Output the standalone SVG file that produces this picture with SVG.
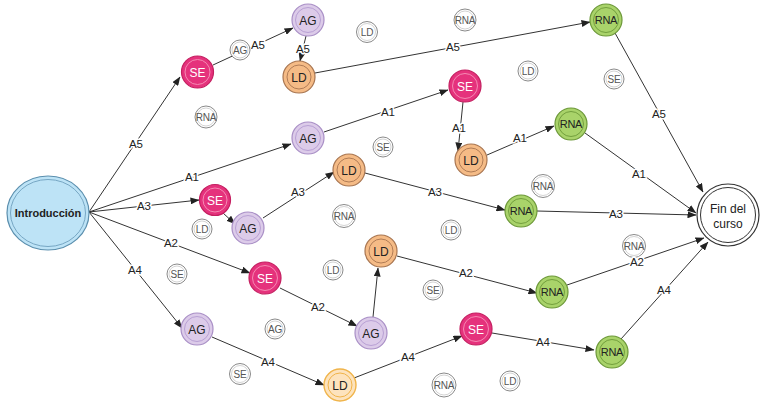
<svg xmlns="http://www.w3.org/2000/svg" width="762" height="407" viewBox="0 0 762 407">
<defs>
<marker id="arr" markerWidth="9" markerHeight="7" refX="8.5" refY="3.5" orient="auto" markerUnits="userSpaceOnUse">
<path d="M0,0 L9,3.5 L0,7 z" fill="#222"/>
</marker>
<style>
.e{stroke:#333;stroke-width:1;fill:none;marker-end:url(#arr)}
.el{font-family:"Liberation Sans",Arial,sans-serif;font-size:11.5px;fill:#222;text-anchor:middle;stroke:#fff;stroke-width:3px;paint-order:stroke;stroke-linejoin:round}
.t{font-family:"Liberation Sans",Arial,sans-serif;font-size:12px;fill:#222;text-anchor:middle}
.tr{font-family:"Liberation Sans",Arial,sans-serif;font-size:11px;fill:#222;text-anchor:middle;letter-spacing:-0.3px}
.tw{font-family:"Liberation Sans",Arial,sans-serif;font-size:12px;fill:#fff;text-anchor:middle}
.g{font-family:"Liberation Sans",Arial,sans-serif;font-size:10px;fill:#555;text-anchor:middle;letter-spacing:-0.2px}
.se{fill:#e5327c;stroke:#c41f60;stroke-width:1.2}
.sei{fill:none;stroke:#f58ab3;stroke-width:1}
.ag{fill:#dccbe9;stroke:#a98fc6;stroke-width:1.2}
.agi{fill:none;stroke:#b8a0d4;stroke-width:1}
.ld{fill:#f5bb86;stroke:#a87550;stroke-width:1.2}
.ldi{fill:none;stroke:#a87550;stroke-width:0.9}
.ld4{fill:#fde3bd;stroke:#f0b44a;stroke-width:1.4}
.ld4i{fill:none;stroke:#f0b44a;stroke-width:1}
.rna{fill:#a9d36a;stroke:#6c9838;stroke-width:1.2}
.rnai{fill:none;stroke:#6c9838;stroke-width:0.9}
.gh{fill:#fff;stroke:#8a8a8a;stroke-width:1}
.ghi{fill:none;stroke:#c8c8c8;stroke-width:0.8}
</style>
</defs>
<rect width="762" height="407" fill="#fff"/>

<g id="ghosts">
<g id="g2"><circle cx="206" cy="117" r="11" class="gh"/><circle cx="206" cy="117" r="9" class="ghi"/><text x="206" y="120.5" class="g">RNA</text></g>
<g id="g3"><circle cx="367" cy="32" r="10.5" class="gh"/><circle cx="367" cy="32" r="8.5" class="ghi"/><text x="367" y="35.5" class="g">LD</text></g>
<g id="g4"><circle cx="465" cy="20" r="11" class="gh"/><circle cx="465" cy="20" r="9" class="ghi"/><text x="465" y="23.5" class="g">RNA</text></g>
<g id="g5"><circle cx="528" cy="71" r="10" class="gh"/><circle cx="528" cy="71" r="8" class="ghi"/><text x="528" y="74.5" class="g">LD</text></g>
<g id="g6"><circle cx="614" cy="79" r="10" class="gh"/><circle cx="614" cy="79" r="8" class="ghi"/><text x="614" y="82.5" class="g">SE</text></g>
<g id="g7"><circle cx="383" cy="147" r="10" class="gh"/><circle cx="383" cy="147" r="8" class="ghi"/><text x="383" y="150.5" class="g">SE</text></g>
<g id="g8"><circle cx="344" cy="216" r="11.5" class="gh"/><circle cx="344" cy="216" r="9.5" class="ghi"/><text x="344" y="219.5" class="g">RNA</text></g>
<g id="g9"><circle cx="451" cy="230" r="10" class="gh"/><circle cx="451" cy="230" r="8" class="ghi"/><text x="451" y="233.5" class="g">LD</text></g>
<g id="g10"><circle cx="202" cy="229" r="10" class="gh"/><circle cx="202" cy="229" r="8" class="ghi"/><text x="202" y="232.5" class="g">LD</text></g>
<g id="g11"><circle cx="543" cy="186" r="11.5" class="gh"/><circle cx="543" cy="186" r="9.5" class="ghi"/><text x="543" y="189.5" class="g">RNA</text></g>
<g id="g12"><circle cx="634" cy="246" r="11.5" class="gh"/><circle cx="634" cy="246" r="9.5" class="ghi"/><text x="634" y="249.5" class="g">RNA</text></g>
<g id="g13"><circle cx="177" cy="274" r="10" class="gh"/><circle cx="177" cy="274" r="8" class="ghi"/><text x="177" y="277.5" class="g">SE</text></g>
<g id="g14"><circle cx="333" cy="270" r="10" class="gh"/><circle cx="333" cy="270" r="8" class="ghi"/><text x="333" y="273.5" class="g">LD</text></g>
<g id="g15"><circle cx="433" cy="290" r="10" class="gh"/><circle cx="433" cy="290" r="8" class="ghi"/><text x="433" y="293.5" class="g">SE</text></g>
<g id="g16"><circle cx="275" cy="329" r="10" class="gh"/><circle cx="275" cy="329" r="8" class="ghi"/><text x="275" y="332.5" class="g">AG</text></g>
<g id="g17"><circle cx="240" cy="374" r="10.5" class="gh"/><circle cx="240" cy="374" r="8.5" class="ghi"/><text x="240" y="377.5" class="g">SE</text></g>
<g id="g18"><circle cx="444" cy="385" r="12" class="gh"/><circle cx="444" cy="385" r="10" class="ghi"/><text x="444" y="388.5" class="g">RNA</text></g>
<g id="g19"><circle cx="510" cy="381" r="10" class="gh"/><circle cx="510" cy="381" r="8" class="ghi"/><text x="510" y="384.5" class="g">LD</text></g>
</g>

<g id="connectors">
<line x1="89" y1="212" x2="180" y2="77" class="e"/>
<line x1="213" y1="65" x2="293" y2="28" class="e"/>
<line x1="306" y1="36" x2="300" y2="61" class="e"/>
<line x1="315" y1="73" x2="590" y2="22" class="e"/>
<line x1="615" y1="33" x2="703" y2="192" class="e"/>
<line x1="89" y1="212" x2="291" y2="144" class="e"/>
<line x1="324" y1="132" x2="448" y2="90" class="e"/>
<line x1="463" y1="102" x2="458" y2="151" class="e"/>
<line x1="487" y1="155" x2="554" y2="126" class="e"/>
<line x1="585" y1="133" x2="696" y2="213" class="e"/>
<line x1="89" y1="212" x2="199" y2="200" class="e"/>
<line x1="223" y1="213" x2="235" y2="224" class="e"/>
<line x1="263" y1="218" x2="334" y2="172" class="e"/>
<line x1="365" y1="173" x2="505" y2="210" class="e"/>
<line x1="537" y1="211" x2="696" y2="215" class="e"/>
<line x1="89" y1="212" x2="250" y2="273" class="e"/>
<line x1="280" y1="288" x2="357" y2="326" class="e"/>
<line x1="373" y1="317" x2="378" y2="268" class="e"/>
<line x1="397" y1="256" x2="537" y2="293" class="e"/>
<line x1="567" y1="285" x2="704" y2="238" class="e"/>
<line x1="89" y1="212" x2="182" y2="328" class="e"/>
<line x1="212" y1="337" x2="324" y2="385" class="e"/>
<line x1="354" y1="378" x2="462" y2="336" class="e"/>
<line x1="492" y1="333" x2="594" y2="350" class="e"/>
<line x1="621" y1="339" x2="708" y2="242" class="e"/>

<text x="136" y="148" class="el">A5</text>
<text x="258" y="49" class="el">A5</text>
<text x="303" y="53" class="el">A5</text>
<text x="453" y="51" class="el">A5</text>
<text x="659" y="118" class="el">A5</text>
<text x="192" y="181" class="el">A1</text>
<text x="388" y="116" class="el">A1</text>
<text x="459" y="132" class="el">A1</text>
<text x="520" y="142" class="el">A1</text>
<text x="639" y="178" class="el">A1</text>
<text x="144" y="210" class="el">A3</text>
<text x="298" y="196" class="el">A3</text>
<text x="435" y="196" class="el">A3</text>
<text x="616" y="218" class="el">A3</text>
<text x="171" y="247" class="el">A2</text>
<text x="318" y="311" class="el">A2</text>
<text x="466" y="277" class="el">A2</text>
<text x="637" y="266" class="el">A2</text>
<text x="135" y="274" class="el">A4</text>
<text x="268" y="366" class="el">A4</text>
<text x="408" y="361" class="el">A4</text>
<text x="543" y="346" class="el">A4</text>
<text x="664" y="294" class="el">A4</text>
</g>

<g id="g1"><circle cx="240" cy="50" r="10" class="gh"/><circle cx="240" cy="50" r="8" class="ghi"/><text x="240" y="53.5" class="g">AG</text></g>

<g id="intro"><ellipse cx="48" cy="213" rx="41" ry="37" fill="#bde3f6" stroke="#5b8fae" stroke-width="1.2"/><ellipse cx="48" cy="213" rx="37.5" ry="33.5" fill="none" stroke="#6e9fbd" stroke-width="0.9"/><text x="48" y="217" font-family="Liberation Sans,Arial,sans-serif" font-size="11" font-weight="bold" fill="#222" text-anchor="middle">Introducción</text></g>
<g id="fin"><circle cx="728" cy="215" r="31" fill="#fff" stroke="#333" stroke-width="1.2"/><circle cx="728" cy="215" r="27.5" fill="none" stroke="#333" stroke-width="1"/><text x="728" y="213" class="t">Fin del</text><text x="728" y="228" class="t">curso</text></g>

<g id="se1"><circle cx="197.5" cy="72" r="16" class="se"/><circle cx="197.5" cy="72" r="12.5" class="sei"/><text x="197.5" y="76.5" class="tw">SE</text></g>
<g id="ag1"><circle cx="308" cy="20" r="16" class="ag"/><circle cx="308" cy="20" r="12.5" class="agi"/><text x="308" y="24.5" class="t">AG</text></g>
<g id="ld1"><circle cx="299" cy="77" r="16" class="ld"/><circle cx="299" cy="77" r="12" class="ldi"/><text x="299" y="81.5" class="t">LD</text></g>
<g id="rna1"><circle cx="606" cy="20" r="16" class="rna"/><circle cx="606" cy="20" r="12.5" class="rnai"/><text x="606" y="24" class="tr">RNA</text></g>

<g id="ag_a1"><circle cx="308" cy="138" r="16" class="ag"/><circle cx="308" cy="138" r="12.5" class="agi"/><text x="308" y="142.5" class="t">AG</text></g>
<g id="se_a1"><circle cx="465" cy="86" r="16" class="se"/><circle cx="465" cy="86" r="12.5" class="sei"/><text x="465" y="90.5" class="tw">SE</text></g>
<g id="ld_a1"><circle cx="471" cy="160" r="16" class="ld"/><circle cx="471" cy="160" r="12" class="ldi"/><text x="471" y="164.5" class="t">LD</text></g>
<g id="rna_a1"><circle cx="571" cy="124" r="16" class="rna"/><circle cx="571" cy="124" r="12.5" class="rnai"/><text x="571" y="128" class="tr">RNA</text></g>

<g id="se_a3"><circle cx="215" cy="200" r="15.5" class="se"/><circle cx="215" cy="200" r="12" class="sei"/><text x="215" y="204.5" class="tw">SE</text></g>
<g id="ag_a3"><circle cx="248" cy="228" r="16" class="ag"/><circle cx="248" cy="228" r="12.5" class="agi"/><text x="248" y="232.5" class="t">AG</text></g>
<g id="ld_a3"><circle cx="349" cy="170" r="16" class="ld"/><circle cx="349" cy="170" r="12" class="ldi"/><text x="349" y="174.5" class="t">LD</text></g>
<g id="rna_a3"><circle cx="521" cy="211" r="16" class="rna"/><circle cx="521" cy="211" r="12.5" class="rnai"/><text x="521" y="215" class="tr">RNA</text></g>

<g id="se_a2"><circle cx="265" cy="278" r="16" class="se"/><circle cx="265" cy="278" r="12.5" class="sei"/><text x="265" y="282.5" class="tw">SE</text></g>
<g id="ag_a2"><circle cx="371" cy="333" r="16" class="ag"/><circle cx="371" cy="333" r="12.5" class="agi"/><text x="371" y="337.5" class="t">AG</text></g>
<g id="ld_a2"><circle cx="381" cy="251" r="16" class="ld"/><circle cx="381" cy="251" r="12" class="ldi"/><text x="381" y="255.5" class="t">LD</text></g>
<g id="rna_a2"><circle cx="552" cy="292" r="16" class="rna"/><circle cx="552" cy="292" r="12.5" class="rnai"/><text x="552" y="296" class="tr">RNA</text></g>

<g id="ag_a4"><circle cx="197" cy="329" r="16" class="ag"/><circle cx="197" cy="329" r="12.5" class="agi"/><text x="197" y="333.5" class="t">AG</text></g>
<g id="ld_a4"><circle cx="340" cy="385" r="16" class="ld4"/><circle cx="340" cy="385" r="12" class="ld4i"/><text x="340" y="389.5" class="t">LD</text></g>
<g id="se_a4"><circle cx="476" cy="329" r="16" class="se"/><circle cx="476" cy="329" r="12.5" class="sei"/><text x="476" y="333.5" class="tw">SE</text></g>
<g id="rna_a4"><circle cx="612" cy="352" r="16" class="rna"/><circle cx="612" cy="352" r="12.5" class="rnai"/><text x="612" y="356" class="tr">RNA</text></g>
</svg>
